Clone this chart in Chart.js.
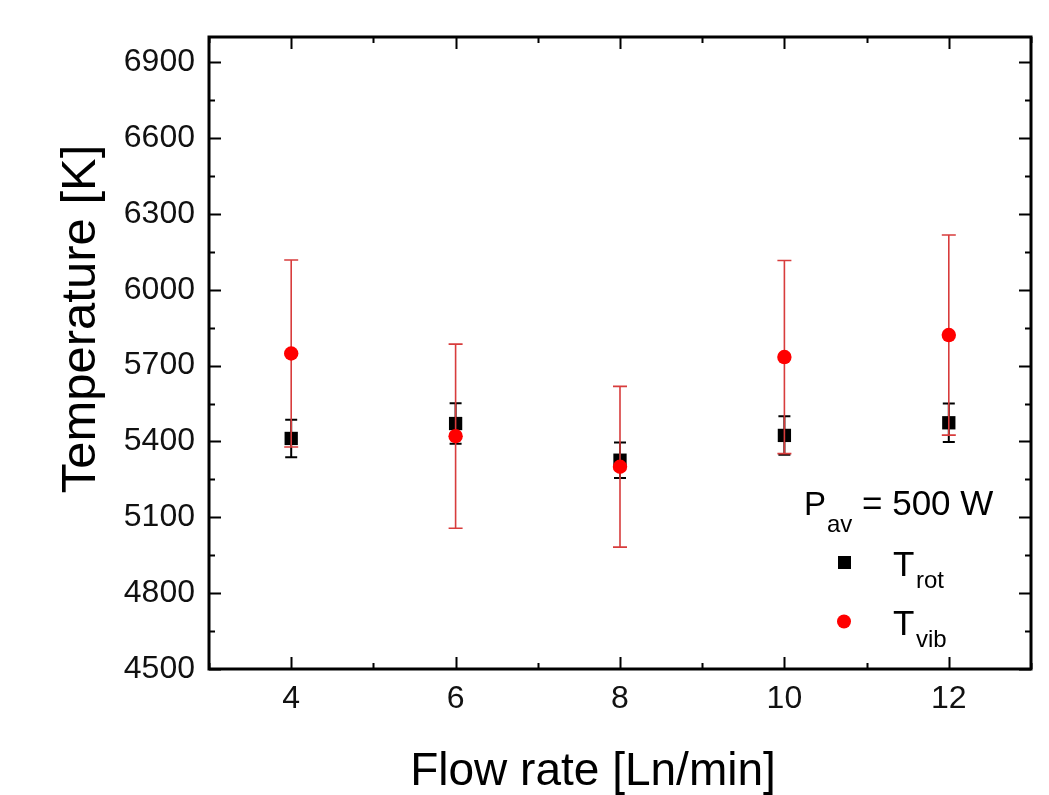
<!DOCTYPE html>
<html>
<head>
<meta charset="utf-8">
<script src="https://cdn.jsdelivr.net/npm/chart.js@4/dist/chart.umd.min.js"></script>
<style>
html,body{margin:0;padding:0;background:#fff;}
#wrap{width:1049px;height:795px;}
</style>
</head>
<body>
<div id="wrap"><canvas id="c" width="1049" height="795"></canvas></div>
<script>
// ---- data ----
const flowRates = [4, 6, 8, 10, 12];
const tRot      = [5412, 5471, 5326, 5424, 5474];
const tRotErr   = [74, 80, 70, 76, 76];
const tVib      = [5748, 5421, 5300, 5734, 5821];
const tVibErr   = [370, 364, 318, 382, 396];

const xTickValues = [4, 6, 8, 10, 12];
const xMinorTicks = [3, 5, 7, 9, 11, 13];
const yTickValues = [4500, 4800, 5100, 5400, 5700, 6000, 6300, 6600, 6900];
const yMinorTicks = [4650, 4950, 5250, 5550, 5850, 6150, 6450, 6750];

const xTitle = 'Flow rate [Ln/min]';
const yTitle = 'Temperature [K]';
const legendTitle = ['P', 'av', '= 500 W'];
const legendRot = ['T', 'rot'];
const legendVib = ['T', 'vib'];

const FONT = '"Liberation Sans", Arial, sans-serif';

const errorBars = [tVibErr, tRotErr]; // per dataset index
const errStyle = [
  {color: '#d83c3c', width: 1.6, cap: 7},
  {color: '#000000', width: 2, cap: 6}
];

const framePlugin = {
  id: 'frame',
  beforeDatasetsDraw(chart) {
    const {ctx, chartArea: a, scales: {x, y}} = chart;
    ctx.save();
    ctx.strokeStyle = '#000';
    ctx.lineWidth = 2;
    ctx.beginPath();
    xTickValues.forEach(v => {
      const px = Math.round(x.getPixelForValue(v)) + 0.5;
      ctx.moveTo(px, a.bottom); ctx.lineTo(px, a.bottom - 12);
      ctx.moveTo(px, a.top); ctx.lineTo(px, a.top + 12);
    });
    xMinorTicks.forEach(v => {
      const px = Math.round(x.getPixelForValue(v)) + 0.5;
      ctx.moveTo(px, a.bottom); ctx.lineTo(px, a.bottom - 6);
      ctx.moveTo(px, a.top); ctx.lineTo(px, a.top + 6);
    });
    yTickValues.forEach(v => {
      const py = Math.round(y.getPixelForValue(v)) + 0.5;
      ctx.moveTo(a.left, py); ctx.lineTo(a.left + 12, py);
      ctx.moveTo(a.right, py); ctx.lineTo(a.right - 12, py);
    });
    yMinorTicks.forEach(v => {
      const py = Math.round(y.getPixelForValue(v)) + 0.5;
      ctx.moveTo(a.left, py); ctx.lineTo(a.left + 6, py);
      ctx.moveTo(a.right, py); ctx.lineTo(a.right - 6, py);
    });
    ctx.stroke();
    ctx.lineWidth = 3;
    ctx.strokeRect(a.left, a.top, a.right - a.left, a.bottom - a.top);
    ctx.restore();
  },
  beforeDatasetDraw(chart, args) {
    const {ctx, scales: {x, y}} = chart;
    const ds = chart.data.datasets[args.index];
    const errs = errorBars[args.index];
    const st = errStyle[args.index];
    ctx.save();
    ctx.strokeStyle = st.color;
    ctx.lineWidth = st.width;
    ctx.beginPath();
    ds.data.forEach((p, i) => {
      const px = x.getPixelForValue(p.x);
      const top = y.getPixelForValue(p.y + errs[i]);
      const bot = y.getPixelForValue(p.y - errs[i]);
      ctx.moveTo(px, top); ctx.lineTo(px, bot);
      ctx.moveTo(px - st.cap, top); ctx.lineTo(px + st.cap, top);
      ctx.moveTo(px - st.cap, bot); ctx.lineTo(px + st.cap, bot);
    });
    ctx.stroke();
    ctx.restore();
  },
  afterDraw(chart) {
    const {ctx} = chart;
    ctx.save();
    ctx.fillStyle = '#000';
    // x title
    ctx.font = '46px ' + FONT;
    ctx.textAlign = 'center';
    ctx.textBaseline = 'alphabetic';
    ctx.fillText(xTitle, 593, 785);
    // y title
    ctx.save();
    ctx.translate(95, 319);
    ctx.rotate(-Math.PI / 2);
    ctx.font = '49px ' + FONT;
    ctx.fillText(yTitle, 0, 0);
    ctx.restore();
    // legend
    ctx.textAlign = 'left';
    ctx.font = '33px ' + FONT;
    ctx.fillText(legendTitle[0], 804, 515);
    ctx.font = '24px ' + FONT;
    ctx.fillText(legendTitle[1], 827, 532);
    ctx.font = '35px ' + FONT;
    ctx.fillText(legendTitle[2], 862, 515);

    ctx.fillStyle = '#000';
    ctx.fillRect(838, 556, 13, 13);
    ctx.font = '35px ' + FONT;
    ctx.fillText(legendRot[0], 893, 576);
    ctx.font = '24px ' + FONT;
    ctx.fillText(legendRot[1], 916, 588);

    ctx.fillStyle = '#ff0000';
    ctx.beginPath();
    ctx.arc(844, 621.5, 7, 0, Math.PI * 2);
    ctx.fill();
    ctx.fillStyle = '#000';
    ctx.font = '35px ' + FONT;
    ctx.fillText(legendVib[0], 893, 635);
    ctx.font = '24px ' + FONT;
    ctx.fillText(legendVib[1], 916, 647);
    ctx.restore();
  }
};

const ctx = document.getElementById('c').getContext('2d');
new Chart(ctx, {
  type: 'scatter',
  data: {
    datasets: [
      {
        label: 'T_vib',
        data: flowRates.map((f, i) => ({x: f, y: tVib[i]})),
        pointStyle: 'circle',
        pointRadius: 7.2,
        pointHoverRadius: 7.2,
        backgroundColor: '#ff0000',
        borderColor: '#ff0000',
        borderWidth: 0,
        order: 0
      },
      {
        label: 'T_rot',
        data: flowRates.map((f, i) => ({x: f, y: tRot[i]})),
        pointStyle: 'rect',
        pointRadius: 9.4,
        pointHoverRadius: 9.4,
        backgroundColor: '#000000',
        borderColor: '#000000',
        borderWidth: 0,
        order: 1
      }
    ]
  },
  options: {
    responsive: false,
    devicePixelRatio: 1,
    animation: false,
    events: [],
    layout: {padding: {left: 0, right: 18, top: 37, bottom: 0}},
    plugins: {legend: {display: false}, tooltip: {enabled: false}},
    scales: {
      x: {
        type: 'linear',
        min: 3, max: 13,
        grid: {display: false, drawTicks: false},
        border: {display: false},
        afterBuildTicks: s => { s.ticks = xTickValues.map(v => ({value: v})); },
        afterFit: s => { s.height = 126; },
        ticks: {
          padding: 11,
          color: '#111',
          font: {family: FONT, size: 32},
          maxRotation: 0,
          callback: v => String(v)
        }
      },
      y: {
        type: 'linear',
        min: 4500, max: 7000,
        grid: {display: false, drawTicks: false},
        border: {display: false},
        afterBuildTicks: s => { s.ticks = yTickValues.map(v => ({value: v})); },
        afterFit: s => { s.width = 209; },
        ticks: {
          padding: 14,
          color: '#111',
          font: {family: FONT, size: 32},
          callback: v => String(v)
        }
      }
    }
  },
  plugins: [framePlugin]
});
</script>
</body>
</html>
